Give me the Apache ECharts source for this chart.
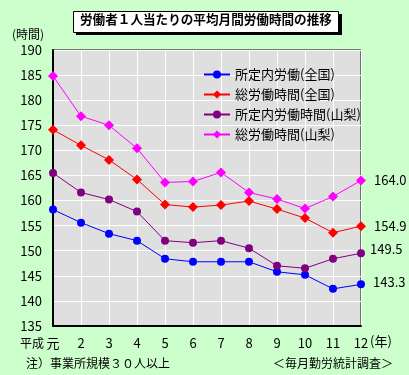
<!DOCTYPE html>
<html>
<head>
<meta charset="utf-8">
<title></title>
<script type="text/javascript" src="https://cdn.jsdelivr.net/npm/echarts@6/dist/echarts.min.js"></script>
<style>
  html, body { margin: 0; padding: 0; }
  #chart { width: 409px; height: 375px; }
</style>
</head>
<body>
<div id="chart"></div>
<script type="text/javascript">
// 年（平成）
var years = ['元', '2', '3', '4', '5', '6', '7', '8', '9', '10', '11', '12'];
// 所定内労働（全国）
var shoteiZenkoku = [158.2, 155.6, 153.4, 152.0, 148.4, 147.8, 147.8, 147.8, 145.8, 145.2, 142.4, 143.3];
// 総労働時間（全国）
var souZenkoku = [174.1, 171.0, 168.1, 164.2, 159.2, 158.7, 159.1, 159.9, 158.3, 156.5, 153.6, 154.9];
// 所定内労働時間（山梨）
var shoteiYamanashi = [165.5, 161.6, 160.2, 157.8, 152.0, 151.6, 152.0, 150.5, 147.0, 146.5, 148.4, 149.5];
// 総労働時間（山梨）
var souYamanashi = [184.8, 176.8, 175.0, 170.4, 163.6, 163.8, 165.6, 161.6, 160.3, 158.4, 160.8, 164.0];

var font = "'Noto Sans CJK JP', sans-serif";

// 最後の点だけ数値を表示
function withEndLabel(arr, offset) {
    return arr.map(function (v, i) {
        if (i !== arr.length - 1) return v;
        return {
            value: v,
            label: {
                show: true,
                position: 'right',
                distance: 8,
                offset: offset,
                color: '#000',
                fontSize: 13,
                fontFamily: font,
                formatter: function (p) { return p.value.toFixed(1); }
            }
        };
    });
}

function makeSeries(name, arr, color, symbol, size, offset) {
    return {
        name: name,
        type: 'line',
        data: withEndLabel(arr, offset),
        symbol: symbol,
        symbolSize: size,
        lineStyle: { color: color, width: 1 },
        itemStyle: { color: color },
        animation: false
    };
}

var myChart = echarts.init(document.getElementById('chart'));
var option = {
    backgroundColor: '#ccffcc',
    textStyle: { fontFamily: font },
    grid: {
        left: 53, right: 48, top: 50, bottom: 49,
        show: true,
        backgroundColor: '#dfdfdf',
        borderColor: '#000',
        borderWidth: 1
    },
    legend: {
        orient: 'vertical',
        left: 198,
        top: 63,
        itemWidth: 26,
        itemHeight: 10,
        itemGap: 7,
        textStyle: { fontSize: 13, color: '#000', fontFamily: font },
        data: ['所定内労働(全国)', '総労働時間(全国)', '所定内労働時間(山梨)', '総労働時間(山梨)']
    },
    xAxis: {
        type: 'category',
        data: years,
        boundaryGap: false,
        axisLine: { lineStyle: { color: '#000', width: 2 } },
        axisTick: { show: false },
        axisLabel: { color: '#000', fontSize: 13, margin: 11, fontFamily: font },
        splitLine: { show: true, lineStyle: { color: '#fff', width: 1 } }
    },
    yAxis: {
        type: 'value',
        min: 135,
        max: 190,
        interval: 5,
        axisLine: { show: true, lineStyle: { color: '#000', width: 2 } },
        axisTick: { show: false },
        axisLabel: { color: '#000', fontSize: 13, margin: 11, fontFamily: font },
        splitLine: { show: true, lineStyle: { color: '#fff', width: 1 } }
    },
    graphic: [
        {
            type: 'rect', left: 76, top: 14,
            shape: { width: 266, height: 21 },
            style: { fill: '#000' }
        },
        {
            type: 'rect', left: 73, top: 11,
            shape: { width: 265, height: 21 },
            style: { fill: '#fff', stroke: '#000', lineWidth: 1 }
        },
        {
            type: 'text', left: 80, top: 13,
            style: { text: '労働者１人当たりの平均月間労働時間の推移', font: 'bold 12.6px ' + font, fill: '#000' }
        },
        {
            type: 'text', left: 12, top: 28,
            style: { text: '(時間)', font: '12px ' + font, fill: '#000' }
        },
        {
            type: 'text', left: 20, top: 337,
            style: { text: '平成', font: '12px ' + font, fill: '#000' }
        },
        {
            type: 'text', left: 370, top: 335,
            style: { text: '(年)', font: '13px ' + font, fill: '#000' }
        },
        {
            type: 'text', left: 26, top: 357,
            style: { text: '注）事業所規模３０人以上', font: '12px ' + font, fill: '#000' }
        },
        {
            type: 'text', left: 273, top: 357,
            style: { text: '＜毎月勤労統計調査＞', font: '12px ' + font, fill: '#000' }
        }
    ],
    series: [
        makeSeries('所定内労働(全国)', shoteiZenkoku, '#0000ff', 'circle', 8, [0, -2]),
        makeSeries('総労働時間(全国)', souZenkoku, '#ff0000', 'diamond', 10, [0, 0]),
        makeSeries('所定内労働時間(山梨)', shoteiYamanashi, '#800080', 'circle', 8, [-3, -4]),
        makeSeries('総労働時間(山梨)', souYamanashi, '#ff00ff', 'diamond', 10, [0, 0])
    ]
};
myChart.setOption(option);
</script>
</body>
</html>
